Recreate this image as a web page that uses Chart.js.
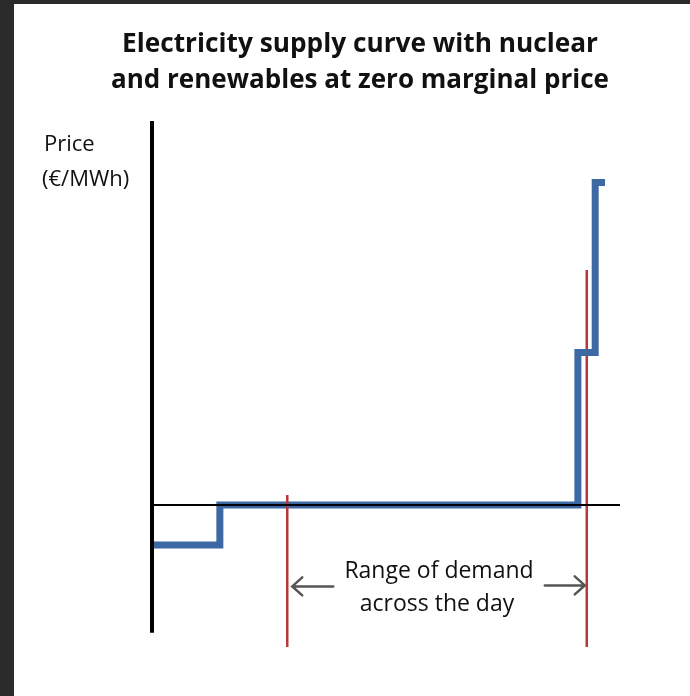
<!DOCTYPE html>
<html>
<head>
<meta charset="utf-8">
<script src="https://cdn.jsdelivr.net/npm/chart.js@4/dist/chart.umd.min.js"></script>
<style>
  html, body { margin: 0; padding: 0; background: #2b2b2b; }
  canvas { display: block; }
</style>
</head>
<body>
<canvas id="supplyChart" width="690" height="696"></canvas>
<script>
// supply curve steps (demand units, price units)
const supplyQty = [0, 14.5, 91, 94.7, 96.8];
const supplyPrice = [-10.4, 0, 39.7, 84, 84];

// demand range over the day (red markers)
const demandLow = 28.9;
const demandHigh = 92.9;
const demandLowTop = 2.6;
const demandHighTop = 61.2;
const demandBottom = -37;

// axes drawn as lines
const axisTop = 100;
const axisBottom = -33.3;
const zeroLineEnd = 100;

const titleLines = ['Electricity supply curve with nuclear', 'and renewables at zero marginal price'];
const yLabelLines = ['Price', '(€/MWh)'];
const rangeLabel = ['Range of demand', 'across the day'];

const blue = '#3c69a3';
const red = '#b5393b';

function pts(xs, ys) {
    return xs.map((x, i) => ({ x: x, y: ys[i] }));
}

const annotations = {
    id: 'annotations',
    beforeDraw(chart) {
        const ctx = chart.ctx;
        ctx.save();
        ctx.fillStyle = '#ffffff';
        ctx.fillRect(0, 0, chart.width, chart.height);
        ctx.fillStyle = '#2b2b2b';
        ctx.fillRect(0, 0, 14, chart.height);
        ctx.fillRect(0, 0, chart.width, 4);
        ctx.restore();
    },
    afterDraw(chart) {
        const ctx = chart.ctx;
        const xs = chart.scales.x;
        const ys = chart.scales.y;
        ctx.save();
        ctx.fillStyle = '#111111';
        ctx.textBaseline = 'alphabetic';

        // title
        ctx.textAlign = 'center';
        ctx.font = 'bold 27px "Open Sans", sans-serif';
        ctx.fillText(titleLines[0], 360, 52, 476);
        ctx.fillText(titleLines[1], 360, 88, 498);

        // y label
        ctx.textAlign = 'left';
        ctx.font = '22px "Open Sans", sans-serif';
        ctx.fillText(yLabelLines[0], 44, 151);
        ctx.fillText(yLabelLines[1], 42, 186);

        // range label
        ctx.textAlign = 'center';
        ctx.font = '23px "Open Sans", sans-serif';
        ctx.fillText(rangeLabel[0], 439, 578, 199);
        ctx.fillText(rangeLabel[1], 437, 611, 166);

        // arrows
        ctx.strokeStyle = '#555555';
        ctx.lineWidth = 2.5;
        ctx.lineCap = 'round';
        ctx.lineJoin = 'miter';
        const ay = ys.getPixelForValue(-21.2);
        const lx = xs.getPixelForValue(demandLow) + 5;
        const rx = xs.getPixelForValue(demandHigh) - 2;
        ctx.beginPath();
        ctx.moveTo(lx + 41, ay);
        ctx.lineTo(lx, ay);
        ctx.moveTo(lx + 10, ay - 9);
        ctx.lineTo(lx, ay);
        ctx.lineTo(lx + 10, ay + 9);
        ctx.stroke();
        ctx.beginPath();
        ctx.moveTo(rx - 40, ay - 1);
        ctx.lineTo(rx, ay - 1);
        ctx.moveTo(rx - 10, ay - 10);
        ctx.lineTo(rx, ay - 1);
        ctx.lineTo(rx - 10, ay + 8);
        ctx.stroke();
        ctx.restore();
    }
};

new Chart(document.getElementById('supplyChart').getContext('2d'), {
    type: 'line',
    data: {
        datasets: [
            {
                data: pts([0, zeroLineEnd], [0, 0]),
                borderColor: '#000000',
                borderWidth: 2
            },
            {
                data: pts([0, 0], [axisTop, axisBottom]),
                borderColor: '#000000',
                borderWidth: 4
            },
            {
                data: pts([demandLow, demandLow], [demandLowTop, demandBottom]),
                borderColor: red,
                borderWidth: 2.5
            },
            {
                data: pts(supplyQty, supplyPrice),
                borderColor: blue,
                borderWidth: 7,
                stepped: 'before',
                borderJoinStyle: 'miter'
            },
            {
                data: pts([demandHigh, demandHigh], [demandHighTop, demandBottom]),
                borderColor: red,
                borderWidth: 2.5
            }
        ]
    },
    options: {
        responsive: false,
        animation: false,
        devicePixelRatio: 1,
        layout: { padding: { left: 152, right: 70, top: 121, bottom: 47 } },
        elements: { point: { radius: 0 }, line: { tension: 0, fill: false } },
        datasets: { line: { clip: false } },
        plugins: { legend: { display: false }, title: { display: false }, tooltip: { enabled: false } },
        scales: {
            x: { type: 'linear', display: false, min: 0, max: 100 },
            y: { type: 'linear', display: false, min: -37.5, max: 100 }
        }
    },
    plugins: [annotations]
});
</script>
</body>
</html>
